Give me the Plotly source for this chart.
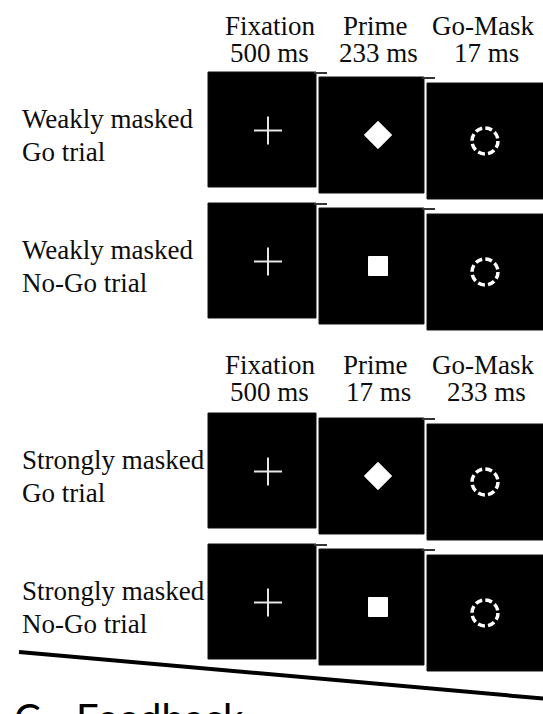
import plotly.graph_objects as go

# ---- content ----
phases = ["Fixation", "Prime", "Go-Mask"]
durations_weak = ["500 ms", "233 ms", "17 ms"]
durations_strong = ["500 ms", "17 ms", "233 ms"]
row_line1 = ["Weakly masked", "Weakly masked", "Strongly masked", "Strongly masked"]
row_line2 = ["Go trial", "No-Go trial", "Go trial", "No-Go trial"]
prime_symbols = ["diamond", "square", "diamond", "square"]
section_letter = "C"
section_title = "Feedback"

# ---- layout constants (pixels) ----
W, H = 543, 714
box_x = [(208, 316), (319, 424), (427, 546)]
box_dy = [0, 5, 11]
box_h = [115, 116, 116]
row_top = [72, 203, 413, 544]
header_rows = [(26, 53, durations_weak), (365, 392, durations_strong)]
phase_cx = [270, 375, 483]
dur_cx = [269, 378, 486]
stim_cx = [268, 378, 485]
ext_rows_box1 = [0, 1, 3]

SERIF = "Liberation Serif"
TXT = "#0d0d0d"
FS = 27
shapes, annotations = [], []

for r, top in enumerate(row_top):
    for b, (x0, x1) in enumerate(box_x):
        y0 = top + box_dy[b]
        shapes.append(dict(type="rect", xref="x", yref="y", x0=x0, x1=x1,
                           y0=y0, y1=y0 + box_h[b], fillcolor="black",
                           line=dict(color="#111", width=1), layer="below"))
        if (b == 0 and r in ext_rows_box1) or b == 1:
            shapes.append(dict(type="line", xref="x", yref="y", x0=x1 - 2, x1=x1 + 11,
                               y0=y0 + 1, y1=y0 + 1,
                               line=dict(color="#333", width=2), layer="below"))
    # dashed circle mask
    cy3 = top + box_dy[2] + box_h[2] / 2
    rr = 13
    shapes.append(dict(type="circle", xref="x", yref="y", x0=stim_cx[2] - rr, x1=stim_cx[2] + rr,
                       y0=cy3 - rr, y1=cy3 + rr,
                       line=dict(color="white", width=3.5, dash="7px,3.2px")))
    # row labels
    cy1 = top + box_h[0] / 2
    annotations.append(dict(x=20, y=cy1 - 11, xref="x", yref="y", text=row_line1[r],
                            showarrow=False, xanchor="left", yanchor="middle",
                            font=dict(family=SERIF, size=FS, color=TXT)))
    annotations.append(dict(x=20, y=cy1 + 22, xref="x", yref="y", text=row_line2[r],
                            showarrow=False, xanchor="left", yanchor="middle",
                            font=dict(family=SERIF, size=FS, color=TXT)))

# headers
for (y1, y2, durs) in header_rows:
    for i, ph in enumerate(phases):
        annotations.append(dict(x=phase_cx[i], y=y1, xref="x", yref="y", text=ph,
                                showarrow=False, xanchor="center", yanchor="middle",
                                font=dict(family=SERIF, size=FS, color=TXT)))
        annotations.append(dict(x=dur_cx[i], y=y2, xref="x", yref="y", text=durs[i],
                                showarrow=False, xanchor="center", yanchor="middle",
                                font=dict(family=SERIF, size=FS, color=TXT)))

# divider line
shapes.append(dict(type="line", xref="x", yref="y", x0=19, y0=652, x1=560, y1=700,
                   line=dict(color="black", width=4)))

# section title (cut off at bottom, as in the reference)
annotations.append(dict(x=12, y=692, xref="x", yref="y", text=section_letter,
                        showarrow=False, xanchor="left", yanchor="top",
                        font=dict(family="Lato", size=40, color="black")))
annotations.append(dict(x=74, y=692, xref="x", yref="y", text=section_title,
                        showarrow=False, xanchor="left", yanchor="top",
                        font=dict(family="Lato", size=40, color="black")))

fig = go.Figure()

# stimuli
cross_x, cross_y, prime_x, prime_y = [], [], [], []
for r, top in enumerate(row_top):
    cross_x.append(stim_cx[0]); cross_y.append(top + box_h[0] / 2 + 1)
    prime_x.append(stim_cx[1]); prime_y.append(top + box_dy[1] + box_h[1] / 2)

fig.add_trace(go.Scatter(x=cross_x, y=cross_y, mode="markers", hoverinfo="skip",
                         marker=dict(symbol="cross-thin-open", size=20, color="#e6e6e6",
                                     line=dict(color="#e6e6e6", width=2))))
for sym in ["diamond", "square"]:
    xs = [prime_x[i] for i in range(4) if prime_symbols[i] == sym]
    ys = [prime_y[i] for i in range(4) if prime_symbols[i] == sym]
    fig.add_trace(go.Scatter(x=xs, y=ys, mode="markers", hoverinfo="skip",
                             marker=dict(symbol=sym, size=21 if sym == "diamond" else 19,
                                         color="white", line=dict(color="white", width=1))))

fig.update_layout(
    width=W, height=H, margin=dict(l=0, r=0, t=0, b=0),
    paper_bgcolor="white", plot_bgcolor="white", showlegend=False,
    xaxis=dict(range=[0, W], visible=False, fixedrange=True),
    yaxis=dict(range=[H, 0], visible=False, fixedrange=True),
    shapes=shapes, annotations=annotations,
)

fig.write_html("out.html", config={"displayModeBar": False},
               post_script="document.body.style.margin='0';document.body.style.overflow='hidden';")
